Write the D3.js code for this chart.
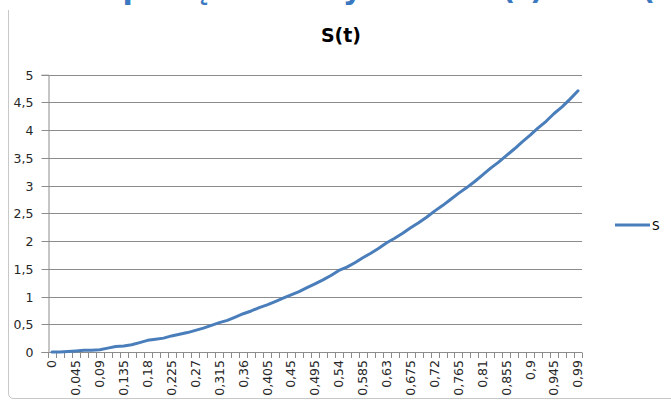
<!DOCTYPE html>
<html>
<head>
<meta charset="utf-8">
<script src="https://cdn.jsdelivr.net/npm/d3@7/dist/d3.min.js"></script>
<style>
  html, body { margin: 0; padding: 0; background: #fff; }
  svg { display: block; }
</style>
</head>
<body>
<svg id="chart" width="671" height="401"></svg>
<script>
const categories = ["0","0,015","0,03","0,045","0,06","0,075","0,09","0,105","0,12","0,135",
  "0,15","0,165","0,18","0,195","0,21","0,225","0,24","0,255","0,27","0,285",
  "0,3","0,315","0,33","0,345","0,36","0,375","0,39","0,405","0,42","0,435",
  "0,45","0,465","0,48","0,495","0,51","0,525","0,54","0,555","0,57","0,585",
  "0,6","0,615","0,63","0,645","0,66","0,675","0,69","0,705","0,72","0,735",
  "0,75","0,765","0,78","0,795","0,81","0,825","0,84","0,855","0,87","0,885",
  "0,9","0,915","0,93","0,945","0,96","0,975","0,99"];
const sValues = [0.00,0.00,0.01,0.02,0.03,0.03,0.04,0.07,0.10,0.11,
  0.13,0.17,0.21,0.23,0.25,0.29,0.32,0.35,0.39,0.43,
  0.48,0.53,0.57,0.63,0.69,0.74,0.80,0.85,0.91,0.97,
  1.03,1.09,1.16,1.23,1.30,1.38,1.47,1.53,1.61,1.70,
  1.78,1.87,1.97,2.05,2.14,2.24,2.33,2.43,2.54,2.64,
  2.75,2.86,2.96,3.07,3.19,3.31,3.42,3.54,3.66,3.79,
  3.91,4.04,4.16,4.30,4.42,4.56,4.71];
const seriesName = "S";
const chartTitle = "S(t)";
const yTicks = [0,0.5,1,1.5,2,2.5,3,3.5,4,4.5,5];
const yTickLabels = ["0","0,5","1","1,5","2","2,5","3","3,5","4","4,5","5"];
const headingPieces = [
  {text: "Op", x: 97},
  {text: "są", x: 172},
  {text: "wykres", x: 315},
  {text: "s(t)", x: 484},
  {text: "oraz", x: 549},
  {text: "v(t)", x: 622}
];

const svg = d3.select("#chart");
const plotLeft = 48, plotRight = 582, plotTop = 74.7, plotBottom = 352;

const x = d3.scaleBand().domain(categories).range([plotLeft, plotRight]).paddingInner(0).paddingOuter(0);
const y = d3.scaleLinear().domain([0, 5]).range([plotBottom, plotTop]);
const cx = d => x(d) + x.bandwidth() / 2;

// cut-off heading at top (only the descenders are visible)
svg.append("g").selectAll("text").data(headingPieces).join("text")
  .attr("x", d => d.x).attr("y", -1)
  .attr("font-family", "DejaVu Sans, sans-serif").attr("font-weight", "bold")
  .attr("font-size", 30).attr("fill", "#3a78c0")
  .text(d => d.text);

// chart area border
svg.append("path")
  .attr("d", "M8.5,10 L8.5,393 Q8.5,398.5 14,398.5 L680,398.5")
  .attr("fill", "none").attr("stroke", "#c8c8c8").attr("stroke-width", 1);

// gridlines
svg.append("g").selectAll("line").data(yTicks).join("line")
  .attr("x1", plotLeft).attr("x2", plotRight)
  .attr("y1", d => Math.round(y(d)) + 0.5).attr("y2", d => Math.round(y(d)) + 0.5)
  .attr("stroke", "#8c8c8c").attr("stroke-width", 1);

// y axis
const yAxis = svg.append("g").attr("transform", `translate(${plotLeft + 0.5},0)`)
  .call(d3.axisLeft(y).tickValues(yTicks).tickFormat((d, i) => yTickLabels[i]).tickSize(7).tickPadding(8));
yAxis.select(".domain").attr("stroke", "#8c8c8c");
yAxis.selectAll(".tick line").attr("stroke", "#8c8c8c");
yAxis.selectAll(".tick").attr("transform", d => `translate(0,${Math.round(y(d)) + 0.5})`);
yAxis.selectAll("text").attr("font-family", "DejaVu Sans, sans-serif").attr("font-size", 12.5).attr("fill", "#262626");

// x axis baseline and tick marks at category boundaries
const xg = svg.append("g");
xg.append("line").attr("x1", plotLeft).attr("x2", plotRight)
  .attr("y1", Math.round(y(0)) + 0.5).attr("y2", Math.round(y(0)) + 0.5)
  .attr("stroke", "#8c8c8c");
const boundaries = categories.map(c => x(c)).concat([x(categories[categories.length - 1]) + x.bandwidth()]);
xg.selectAll("line.tk").data(boundaries).join("line").attr("class", "tk")
  .attr("x1", d => Math.round(d) + 0.5).attr("x2", d => Math.round(d) + 0.5)
  .attr("y1", Math.round(y(0)) + 0.5).attr("y2", Math.round(y(0)) + 6)
  .attr("stroke", "#8c8c8c");
xg.selectAll("text").data(categories.filter((c, i) => i % 3 === 0)).join("text")
  .attr("transform", d => `translate(${cx(d)},${y(0) + 8}) rotate(-90)`)
  .attr("text-anchor", "end").attr("dy", "0.35em")
  .attr("font-family", "DejaVu Sans, sans-serif").attr("font-size", 12.5).attr("fill", "#262626")
  .text(d => d);

// series line
svg.append("path").datum(sValues.map((v, i) => [categories[i], v]))
  .attr("d", d3.line().x(d => cx(d[0])).y(d => y(d[1])))
  .attr("fill", "none").attr("stroke", "#4a7ebb").attr("stroke-width", 3)
  .attr("stroke-linejoin", "round").attr("stroke-linecap", "round");

// title
svg.append("text").attr("x", 341).attr("y", 42).attr("text-anchor", "middle")
  .attr("font-family", "DejaVu Sans, sans-serif").attr("font-weight", "bold")
  .attr("font-size", 19).attr("fill", "#000").text(chartTitle);

// legend
const lg = svg.append("g").attr("transform", "translate(615,225)");
lg.append("line").attr("x1", 0).attr("x2", 35).attr("y1", 0).attr("y2", 0)
  .attr("stroke", "#4a7ebb").attr("stroke-width", 3);
lg.append("text").attr("x", 37).attr("y", 0).attr("dy", "0.38em")
  .attr("font-family", "DejaVu Sans, sans-serif").attr("font-size", 12).attr("fill", "#000")
  .text(seriesName);
</script>
</body>
</html>
